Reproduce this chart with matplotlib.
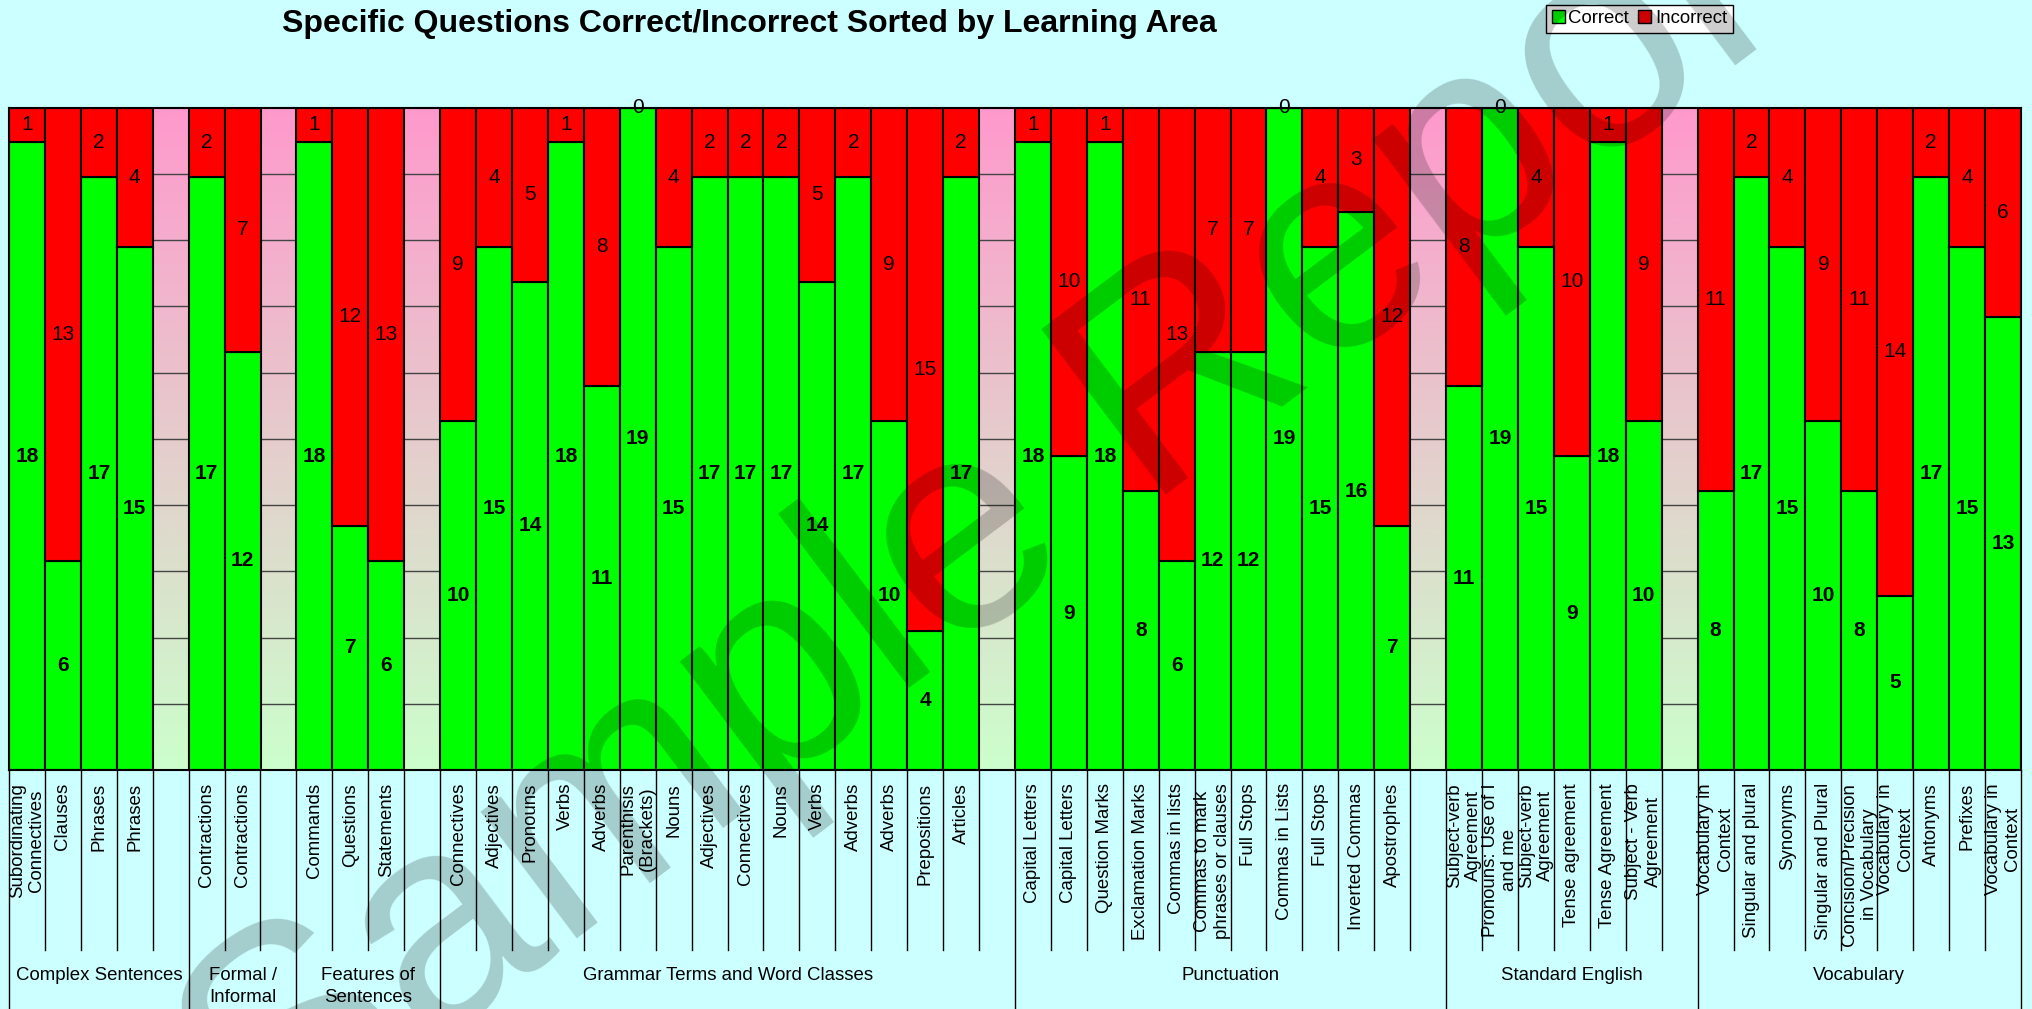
import matplotlib
matplotlib.use('Agg')
import matplotlib.pyplot as plt
import numpy as np
from matplotlib.patches import Patch
from matplotlib.colors import LinearSegmentedColormap
import matplotlib.transforms as mtransforms

# learning areas and how many questions sit in each
groups = ['Complex Sentences', 'Formal /\nInformal', 'Features of\nSentences',
          'Grammar Terms and Word Classes', 'Punctuation', 'Standard English', 'Vocabulary']
group_sizes = [4, 2, 3, 15, 11, 6, 9]

questions = [
    'Subordinating\nConnectives', 'Clauses', 'Phrases', 'Phrases',
    'Contractions', 'Contractions',
    'Commands', 'Questions', 'Statements',
    'Connectives', 'Adjectives', 'Pronouns', 'Verbs', 'Adverbs', 'Parenthisis\n(Brackets)',
    'Nouns', 'Adjectives', 'Connectives', 'Nouns', 'Verbs', 'Adverbs', 'Adverbs',
    'Prepositions', 'Articles',
    'Capital Letters', 'Capital Letters', 'Question Marks', 'Exclamation Marks',
    'Commas in lists', 'Commas to mark\nphrases or clauses', 'Full Stops', 'Commas in Lists',
    'Full Stops', 'Inverted Commas', 'Apostrophes',
    'Subject-verb\nAgreement', 'Pronouns: Use of I\nand me', 'Subject-verb\nAgreement',
    'Tense agreement', 'Tense Agreement', 'Subject - Verb\nAgreement',
    'Vocabulary in\nContext', 'Singular and plural', 'Synonyms', 'Singular and Plural',
    'Concision/Precision\nin Vocabulary', 'Vocabulary in\nContext', 'Antonyms', 'Prefixes',
    'Vocabulary in\nContext',
]

correct = [18, 6, 17, 15,
           17, 12,
           18, 7, 6,
           10, 15, 14, 18, 11, 19, 15, 17, 17, 17, 14, 17, 10, 4, 17,
           18, 9, 18, 8, 6, 12, 12, 19, 15, 16, 7,
           11, 19, 15, 9, 18, 10,
           8, 17, 15, 10, 8, 5, 17, 15, 13]
incorrect = [1, 13, 2, 4,
             2, 7,
             1, 12, 13,
             9, 4, 5, 1, 8, 0, 4, 2, 2, 2, 5, 2, 9, 15, 2,
             1, 10, 1, 11, 13, 7, 7, 0, 4, 3, 12,
             8, 0, 4, 10, 1, 9,
             11, 2, 4, 9, 11, 14, 2, 4, 6]

# slot positions: one empty slot after each group except the last
pos = []
bounds = [0]
slot = 0
for gi, n in enumerate(group_sizes):
    for k in range(n):
        pos.append(slot + 0.5)
        slot += 1
    if gi < len(group_sizes) - 1:
        slot += 1
    bounds.append(slot)
n_slots = slot

plt.rcParams['font.family'] = ['Liberation Sans', 'DejaVu Sans']

W, H = 2033, 1009
fig = plt.figure(figsize=(W / 100, H / 100), dpi=100, facecolor='#ccffff')
px_left, px_right, px_top, px_bot = 9, 2021, 107.5, 770
ax = fig.add_axes([px_left / W, 1 - px_bot / H, (px_right - px_left) / W, (px_bot - px_top) / H])
ax_h = px_bot - px_top

ax.set_xlim(0, n_slots)
ax.set_ylim(0, 100)
ax.set_xticks([])
ax.set_yticks([])
for s in ax.spines.values():
    s.set_linewidth(1.5)
    s.set_color('black')

# gradient background
grad = np.linspace(0, 1, 256)[:, None]
cmap = LinearSegmentedColormap.from_list('bg', ['#ccffcc', '#ff99cc'])
ax.imshow(grad, extent=[0, n_slots, 0, 100], origin='lower', aspect='auto', cmap=cmap, zorder=0)
for y in range(10, 100, 10):
    ax.axhline(y, color='#444444', lw=1, zorder=1)

c = np.array(correct, dtype=float)
i = np.array(incorrect, dtype=float)
tot = c + i
pc = c / tot * 100
pi = i / tot * 100

ax.bar(pos, pc, width=1, color='#00ff00', edgecolor='black', linewidth=1.5, zorder=2)
ax.bar(pos, pi, bottom=pc, width=1, color='#ff0000', edgecolor='black', linewidth=1.5, zorder=2)

for x, a, b, va_, vb in zip(pos, pc, pi, correct, incorrect):
    ax.text(x, a / 2, str(va_), ha='center', va='center', fontsize=15, weight='bold', zorder=5)
    ax.text(x, a + b / 2, str(vb), ha='center', va='center', fontsize=15, zorder=5, clip_on=False)

trans = mtransforms.blended_transform_factory(ax.transData, ax.transAxes)

# question labels
for x, lab in zip(pos, questions):
    ax.text(x, -13 / ax_h, lab, transform=trans, rotation=90, ha='center', va='top',
            multialignment='center', fontsize=13.4)

# tick lines and group separators
tick_low = -(950 - px_bot) / ax_h
fig_low = -(H - px_bot) / ax_h
for k in range(n_slots + 1):
    low = fig_low if k in bounds else tick_low
    ax.plot([k, k], [0, low], transform=trans, color='black', lw=1, clip_on=False, zorder=3)

for gi, g in enumerate(groups):
    xc = (bounds[gi] + bounds[gi + 1]) / 2
    ax.text(xc, -(967 - px_bot) / ax_h, g, transform=trans, ha='center', va='top',
            multialignment='center', fontsize=13.4, linespacing=1.35)

fig.text(282 / W, 1 - 32 / H, 'Specific Questions Correct/Incorrect Sorted by Learning Area',
         ha='left', va='baseline', fontsize=23, weight='bold')

handles = [Patch(facecolor='#00ff00', edgecolor='black', label='Correct'),
           Patch(facecolor='#ff0000', edgecolor='black', label='Incorrect')]
leg = fig.legend(handles=handles, loc='upper left', bbox_to_anchor=(1546 / W, 1 - 4.5 / H),
                 ncol=2, fontsize=13.4, handlelength=0.7, handleheight=0.7, handletextpad=0.2,
                 columnspacing=0.5, borderpad=0.3, borderaxespad=0, fancybox=False,
                 framealpha=1, edgecolor='black', facecolor='white')
leg.get_frame().set_linewidth(1)

# watermark
fig.text(268 / W, 1 - 1171 / H, 'Sample Report', rotation=37, rotation_mode='anchor',
         ha='left', va='baseline', fontsize=216, color='black', alpha=0.2, zorder=10)

fig.savefig('out.png', dpi=100, facecolor=fig.get_facecolor())
